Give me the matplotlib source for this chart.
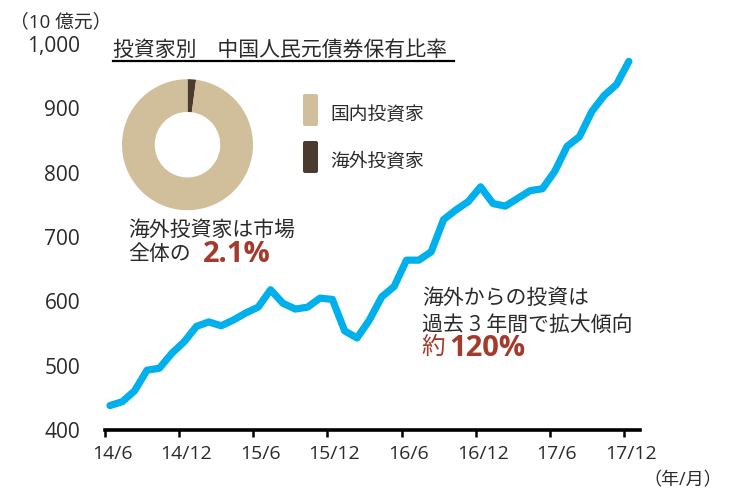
import numpy as np
import matplotlib.pyplot as plt
from matplotlib.patches import FancyBboxPatch
from matplotlib.lines import Line2D
from matplotlib.transforms import ScaledTranslation, IdentityTransform

plt.rcParams['font.family'] = ['Open Sans', 'Noto Sans CJK JP', 'DejaVu Sans']

# 月次データ (14/6 ～ 17/12), 単位: 10億元
values = [438, 444, 461, 493, 496, 519, 537, 561, 568, 562, 571, 582, 591, 618,
          597, 588, 591, 605, 603, 554, 543, 571, 607, 623, 664, 664, 677, 727,
          742, 755, 778, 752, 748, 760, 772, 775, 802, 841, 856, 895, 920, 937, 973]
tick_labels = ['14/6', '14/12', '15/6', '15/12', '16/6', '16/12', '17/6', '17/12']
ytick_vals = [400, 500, 600, 700, 800, 900, 1000]
ytick_labels = ['400', '500', '600', '700', '800', '900', '1,000']

pie_labels = ['国内投資家', '海外投資家']
pie_share = [97.9, 2.1]

LINE = '#00b0ec'
RED = '#a43a2b'
BEIGE = '#d1bf9c'
BROWN = '#4b3b2f'
TXT = '#2a2a2a'

W, H = 734, 491


def fx(px):
    return px / W


def fy(py):
    return 1 - py / H


fig = plt.figure(figsize=(W / 100, H / 100), dpi=100)

# 折れ線
ax = fig.add_axes([fx(105), fy(430), (640 - 105) / W, (430 - 44) / H])
ax.plot(np.arange(len(values)), values, color=LINE, lw=5.2,
        solid_capstyle='round', solid_joinstyle='round')
ax.set_ylim(400, 1000)
ax.set_xlim(-0.4, 42.9)
ax.set_xticks(np.arange(0, 43, 6) - 0.4, tick_labels)
ax.set_yticks(ytick_vals, ytick_labels)
for s in ['top', 'right', 'left']:
    ax.spines[s].set_visible(False)
ax.spines['bottom'].set_linewidth(2.6)
ax.spines['bottom'].set_color('black')
ax.tick_params(axis='y', length=0, pad=18, labelsize=15, labelcolor=TXT)
ax.tick_params(axis='x', direction='out', length=5, width=1.8, pad=6,
               labelsize=14, labelcolor=TXT)
for lab in ax.get_xticklabels():
    lab.set_transform(lab.get_transform() + ScaledTranslation(0.07, 0, fig.dpi_scale_trans))

# 円グラフ
pax = fig.add_axes([fx(122), fy(210.2), 131 / W, 131 / H])
pax.pie([pie_share[1], pie_share[0]], colors=[BROWN, BEIGE], startangle=90,
        counterclock=False, wedgeprops=dict(width=0.5, linewidth=0))
pax.set_xlim(-1, 1)
pax.set_ylim(-1, 1)

# 凡例 (角丸の四角)
for i, (lab, col) in enumerate(zip(pie_labels, [BEIGE, BROWN])):
    top = 94 + i * 47
    fig.add_artist(FancyBboxPatch((303, H - top - 32), 15, 32,
                                  boxstyle='round,pad=0,rounding_size=2',
                                  facecolor=col, edgecolor='none',
                                  transform=IdentityTransform()))
    fig.text(fx(330), fy(top + 21), lab, fontsize=13.5, va='center', color=TXT)

# テキスト
fig.text(fx(10), fy(22), '（10 億元）', fontsize=13.5, va='center', color=TXT)
fig.text(fx(722), fy(480), '（年/月）', fontsize=13, va='center', ha='right', color=TXT)

fig.text(fx(113), fy(50), '投資家別　中国人民元債券保有比率', fontsize=15, va='center', color=TXT)
fig.add_artist(Line2D([fx(113), fx(454)], [fy(61), fy(61)], color='black', lw=1.6))

fig.text(fx(128), fy(230), '海外投資家は市場', fontsize=15, va='center', color=TXT)
fig.text(fx(128), fy(255), '全体の', fontsize=15, va='center', color=TXT)
fig.text(fx(203), fy(255), '2.1%', fontsize=21, va='center', weight='bold', color=RED)

fig.text(fx(422), fy(298), '海外からの投資は', fontsize=15, va='center', color=TXT)
fig.text(fx(422), fy(325), '過去 3 年間で拡大傾向', fontsize=15, va='center', color=TXT)
fig.text(fx(421), fy(348), '約', fontsize=17, va='center', color=RED)
fig.text(fx(449), fy(348), '120%', fontsize=21, va='center', weight='bold', color=RED)

fig.savefig('out.png', dpi=100)
